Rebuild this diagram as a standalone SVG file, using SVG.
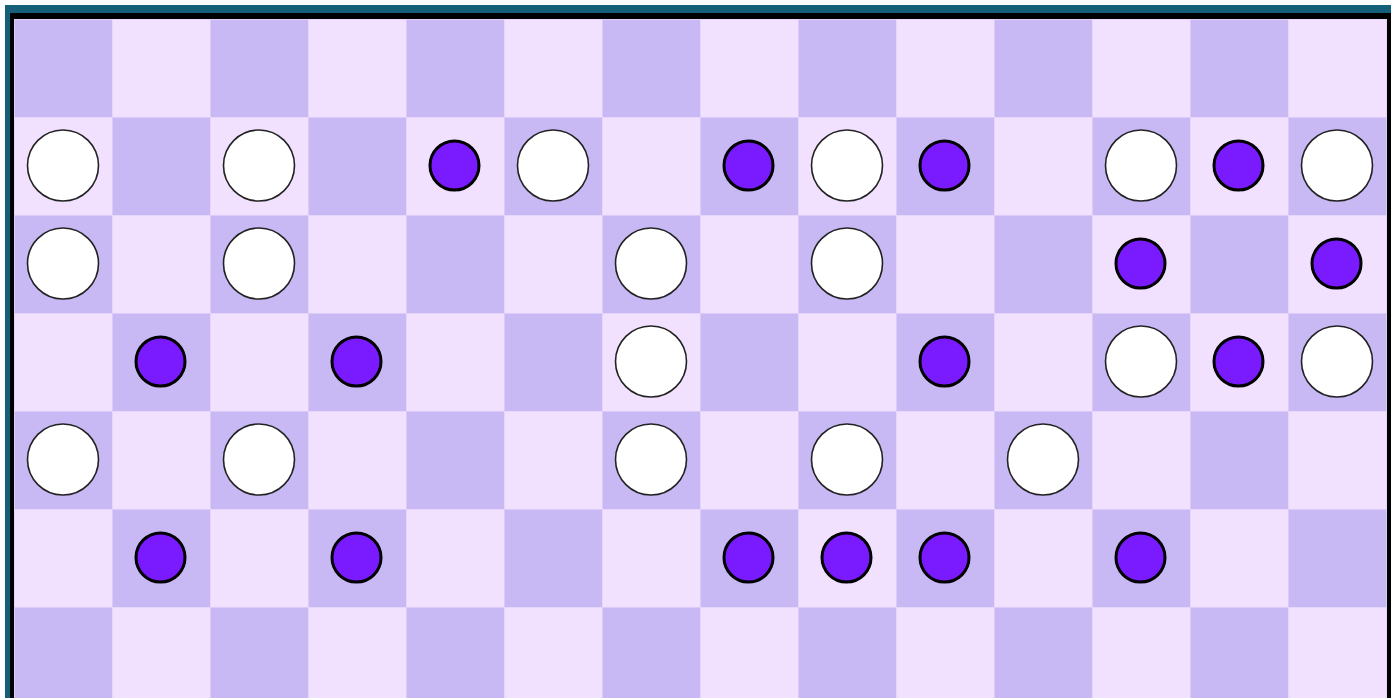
<svg xmlns="http://www.w3.org/2000/svg" width="1391" height="698" viewBox="0 0 1391 698">
<style>
.d{fill:#c8b8f3;stroke:#dccbf8;stroke-width:1}
.l{fill:#f1e1ff;stroke:#e6d6fb;stroke-width:1}
.w{fill:#ffffff;stroke:#222;stroke-width:1.6}
.p{fill:#7a1bff;stroke:#000;stroke-width:3}
</style>
<rect x="0" y="0" width="1391" height="698" fill="#ffffff"/>
<rect x="5" y="5" width="1400" height="700" fill="#155f78"/>
<rect x="10" y="13" width="1395" height="700" fill="#000"/>
<g id="board">
<rect class="d" x="14.5" y="19.5" width="98" height="98"/><rect class="l" x="112.5" y="19.5" width="98" height="98"/><rect class="d" x="210.5" y="19.5" width="98" height="98"/><rect class="l" x="308.5" y="19.5" width="98" height="98"/><rect class="d" x="406.5" y="19.5" width="98" height="98"/><rect class="l" x="504.5" y="19.5" width="98" height="98"/><rect class="d" x="602.5" y="19.5" width="98" height="98"/><rect class="l" x="700.5" y="19.5" width="98" height="98"/><rect class="d" x="798.5" y="19.5" width="98" height="98"/><rect class="l" x="896.5" y="19.5" width="98" height="98"/><rect class="d" x="994.5" y="19.5" width="98" height="98"/><rect class="l" x="1092.5" y="19.5" width="98" height="98"/><rect class="d" x="1190.5" y="19.5" width="98" height="98"/><rect class="l" x="1288.5" y="19.5" width="98" height="98"/>
<rect class="l" x="14.5" y="117.5" width="98" height="98"/><rect class="d" x="112.5" y="117.5" width="98" height="98"/><rect class="l" x="210.5" y="117.5" width="98" height="98"/><rect class="d" x="308.5" y="117.5" width="98" height="98"/><rect class="l" x="406.5" y="117.5" width="98" height="98"/><rect class="d" x="504.5" y="117.5" width="98" height="98"/><rect class="l" x="602.5" y="117.5" width="98" height="98"/><rect class="d" x="700.5" y="117.5" width="98" height="98"/><rect class="l" x="798.5" y="117.5" width="98" height="98"/><rect class="d" x="896.5" y="117.5" width="98" height="98"/><rect class="l" x="994.5" y="117.5" width="98" height="98"/><rect class="d" x="1092.5" y="117.5" width="98" height="98"/><rect class="l" x="1190.5" y="117.5" width="98" height="98"/><rect class="d" x="1288.5" y="117.5" width="98" height="98"/>
<rect class="d" x="14.5" y="215.5" width="98" height="98"/><rect class="l" x="112.5" y="215.5" width="98" height="98"/><rect class="d" x="210.5" y="215.5" width="98" height="98"/><rect class="l" x="308.5" y="215.5" width="98" height="98"/><rect class="d" x="406.5" y="215.5" width="98" height="98"/><rect class="l" x="504.5" y="215.5" width="98" height="98"/><rect class="d" x="602.5" y="215.5" width="98" height="98"/><rect class="l" x="700.5" y="215.5" width="98" height="98"/><rect class="d" x="798.5" y="215.5" width="98" height="98"/><rect class="l" x="896.5" y="215.5" width="98" height="98"/><rect class="d" x="994.5" y="215.5" width="98" height="98"/><rect class="l" x="1092.5" y="215.5" width="98" height="98"/><rect class="d" x="1190.5" y="215.5" width="98" height="98"/><rect class="l" x="1288.5" y="215.5" width="98" height="98"/>
<rect class="l" x="14.5" y="313.5" width="98" height="98"/><rect class="d" x="112.5" y="313.5" width="98" height="98"/><rect class="l" x="210.5" y="313.5" width="98" height="98"/><rect class="d" x="308.5" y="313.5" width="98" height="98"/><rect class="l" x="406.5" y="313.5" width="98" height="98"/><rect class="d" x="504.5" y="313.5" width="98" height="98"/><rect class="l" x="602.5" y="313.5" width="98" height="98"/><rect class="d" x="700.5" y="313.5" width="98" height="98"/><rect class="l" x="798.5" y="313.5" width="98" height="98"/><rect class="d" x="896.5" y="313.5" width="98" height="98"/><rect class="l" x="994.5" y="313.5" width="98" height="98"/><rect class="d" x="1092.5" y="313.5" width="98" height="98"/><rect class="l" x="1190.5" y="313.5" width="98" height="98"/><rect class="d" x="1288.5" y="313.5" width="98" height="98"/>
<rect class="d" x="14.5" y="411.5" width="98" height="98"/><rect class="l" x="112.5" y="411.5" width="98" height="98"/><rect class="d" x="210.5" y="411.5" width="98" height="98"/><rect class="l" x="308.5" y="411.5" width="98" height="98"/><rect class="d" x="406.5" y="411.5" width="98" height="98"/><rect class="l" x="504.5" y="411.5" width="98" height="98"/><rect class="d" x="602.5" y="411.5" width="98" height="98"/><rect class="l" x="700.5" y="411.5" width="98" height="98"/><rect class="d" x="798.5" y="411.5" width="98" height="98"/><rect class="l" x="896.5" y="411.5" width="98" height="98"/><rect class="d" x="994.5" y="411.5" width="98" height="98"/><rect class="l" x="1092.5" y="411.5" width="98" height="98"/><rect class="d" x="1190.5" y="411.5" width="98" height="98"/><rect class="l" x="1288.5" y="411.5" width="98" height="98"/>
<rect class="l" x="14.5" y="509.5" width="98" height="98"/><rect class="d" x="112.5" y="509.5" width="98" height="98"/><rect class="l" x="210.5" y="509.5" width="98" height="98"/><rect class="d" x="308.5" y="509.5" width="98" height="98"/><rect class="l" x="406.5" y="509.5" width="98" height="98"/><rect class="d" x="504.5" y="509.5" width="98" height="98"/><rect class="l" x="602.5" y="509.5" width="98" height="98"/><rect class="d" x="700.5" y="509.5" width="98" height="98"/><rect class="l" x="798.5" y="509.5" width="98" height="98"/><rect class="d" x="896.5" y="509.5" width="98" height="98"/><rect class="l" x="994.5" y="509.5" width="98" height="98"/><rect class="d" x="1092.5" y="509.5" width="98" height="98"/><rect class="l" x="1190.5" y="509.5" width="98" height="98"/><rect class="d" x="1288.5" y="509.5" width="98" height="98"/>
<rect class="d" x="14.5" y="607.5" width="98" height="98"/><rect class="l" x="112.5" y="607.5" width="98" height="98"/><rect class="d" x="210.5" y="607.5" width="98" height="98"/><rect class="l" x="308.5" y="607.5" width="98" height="98"/><rect class="d" x="406.5" y="607.5" width="98" height="98"/><rect class="l" x="504.5" y="607.5" width="98" height="98"/><rect class="d" x="602.5" y="607.5" width="98" height="98"/><rect class="l" x="700.5" y="607.5" width="98" height="98"/><rect class="d" x="798.5" y="607.5" width="98" height="98"/><rect class="l" x="896.5" y="607.5" width="98" height="98"/><rect class="d" x="994.5" y="607.5" width="98" height="98"/><rect class="l" x="1092.5" y="607.5" width="98" height="98"/><rect class="d" x="1190.5" y="607.5" width="98" height="98"/><rect class="l" x="1288.5" y="607.5" width="98" height="98"/>
</g>
<g id="pieces">
<circle class="w" cx="63" cy="165.5" r="35.5"/><circle class="w" cx="259" cy="165.5" r="35.5"/><circle class="p" cx="454.5" cy="165.5" r="24.5"/><circle class="w" cx="553" cy="165.5" r="35.5"/><circle class="p" cx="748.5" cy="165.5" r="24.5"/><circle class="w" cx="847" cy="165.5" r="35.5"/><circle class="p" cx="944.5" cy="165.5" r="24.5"/><circle class="w" cx="1141" cy="165.5" r="35.5"/><circle class="p" cx="1238.5" cy="165.5" r="24.5"/><circle class="w" cx="1337" cy="165.5" r="35.5"/>
<circle class="w" cx="63" cy="263.5" r="35.5"/><circle class="w" cx="259" cy="263.5" r="35.5"/><circle class="w" cx="651" cy="263.5" r="35.5"/><circle class="w" cx="847" cy="263.5" r="35.5"/><circle class="p" cx="1140.5" cy="263.5" r="24.5"/><circle class="p" cx="1336.5" cy="263.5" r="24.5"/>
<circle class="p" cx="160.5" cy="361.5" r="24.5"/><circle class="p" cx="356.5" cy="361.5" r="24.5"/><circle class="w" cx="651" cy="361.5" r="35.5"/><circle class="p" cx="944.5" cy="361.5" r="24.5"/><circle class="w" cx="1141" cy="361.5" r="35.5"/><circle class="p" cx="1238.5" cy="361.5" r="24.5"/><circle class="w" cx="1337" cy="361.5" r="35.5"/>
<circle class="w" cx="63" cy="459.5" r="35.5"/><circle class="w" cx="259" cy="459.5" r="35.5"/><circle class="w" cx="651" cy="459.5" r="35.5"/><circle class="w" cx="847" cy="459.5" r="35.5"/><circle class="w" cx="1043" cy="459.5" r="35.5"/>
<circle class="p" cx="160.5" cy="557.5" r="24.5"/><circle class="p" cx="356.5" cy="557.5" r="24.5"/><circle class="p" cx="748.5" cy="557.5" r="24.5"/><circle class="p" cx="846.5" cy="557.5" r="24.5"/><circle class="p" cx="944.5" cy="557.5" r="24.5"/><circle class="p" cx="1140.5" cy="557.5" r="24.5"/>
</g>
</svg>
